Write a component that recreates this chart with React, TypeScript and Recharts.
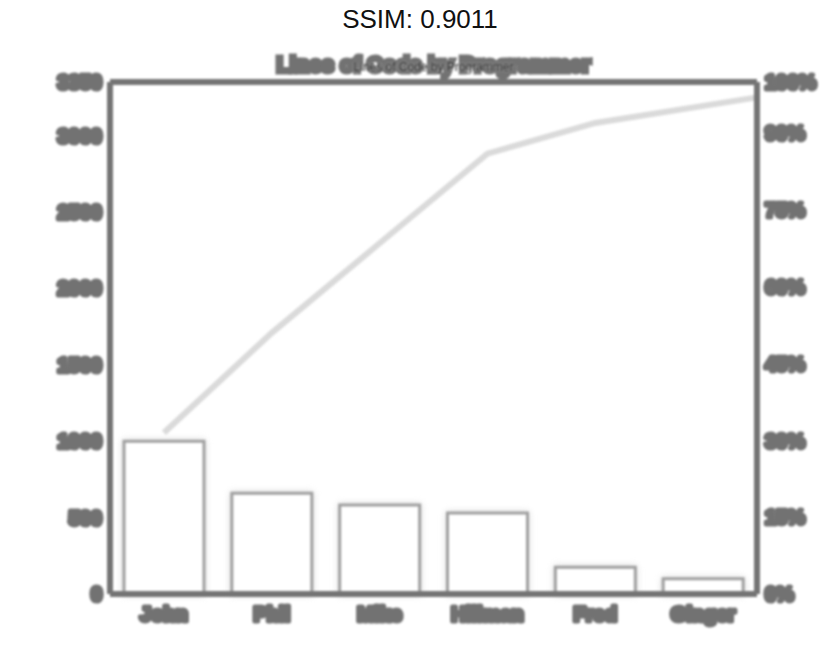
import React from 'react';
import { ComposedChart, Bar, Line, XAxis, YAxis, ReferenceLine } from 'recharts';

// programmers and their lines of code
const programmers = ['John', 'Phil', 'Mike', 'Hillman', 'Fred', 'Ginger'];
const linesOfCode = [1000, 660, 582, 530, 175, 100];

// cumulative share (%)
const cumulativePct = [31.5, 51, 68.5, 86, 92, 97];
const cumulativePos = [0, 1, 2, 3, 4, 5.5];

const leftTicks = [0, 500, 1000, 1500, 2000, 2500, 3000, 3350];
const rightTicks = [0, 15, 30, 45, 60, 75, 90, 100];

const FONT = '"Liberation Sans", Arial, sans-serif';
const AXIS = '#747474';
const LABEL = '#727272';

const labelStyle = {
   fill: LABEL,
   stroke: LABEL,
   strokeWidth: 5,
   strokeLinejoin: 'round' as const,
   fontSize: 20,
   fontWeight: 700,
   fontFamily: FONT,
};

const App = () => {
   const barData = programmers.map((name, i) => ({ name, loc: linesOfCode[i] }));
   const lineData = cumulativePos.map((pos, i) => ({ pos, pct: cumulativePct[i] }));

   return (
      <div style={{ position: 'absolute', left: 0, top: 0, width: 840, height: 664, background: '#fff' }}>
         <div
            style={{
               position: 'absolute', left: 0, top: 4, width: 840, textAlign: 'center',
               fontFamily: FONT, fontSize: 26, color: '#111',
            }}
         >
            SSIM: 0.9011
         </div>
         <div style={{ position: 'absolute', left: 0, top: 0, width: 840, height: 664, filter: 'blur(0.9px)' }}>
            <div
               style={{
                  position: 'absolute', left: 110, width: 647, top: 51, textAlign: 'center',
                  fontFamily: FONT, fontSize: 22, fontWeight: 700, color: LABEL,
                  WebkitTextStroke: `5px ${LABEL}`, lineHeight: '28px',
               }}
            >
               Lines of Code by Programmer
            </div>
            <div
               style={{
                  position: 'absolute', left: 110, width: 647, top: 60, textAlign: 'center',
                  fontFamily: FONT, fontSize: 12, color: '#1a1a1a', lineHeight: '14px',
                  textShadow: '0 0 2px #eeeeee',
               }}
            >
               Lines of Code by Programmer
            </div>
            <ComposedChart
               width={840}
               height={664}
               data={barData}
               margin={{ top: 82, right: 0, bottom: 0, left: 0 }}
               style={{ position: 'absolute', left: 0, top: 0 }}
            >
               <XAxis
                  dataKey="name"
                  xAxisId="cat"
                  height={70}
                  interval={0}
                  tickLine={false}
                  tickMargin={7}
                  axisLine={{ stroke: AXIS, strokeWidth: 6 }}
                  tick={labelStyle}
               />
               <XAxis xAxisId="pos" dataKey="pos" type="number" domain={[-0.5, 5.5]} hide />
               <YAxis
                  yAxisId="left"
                  domain={[0, 3350]}
                  ticks={leftTicks}
                  interval={0}
                  width={110}
                  tickLine={false}
                  axisLine={{ stroke: AXIS, strokeWidth: 6 }}
                  tick={labelStyle}
               />
               <YAxis
                  yAxisId="right"
                  orientation="right"
                  domain={[0, 100]}
                  ticks={rightTicks}
                  interval={0}
                  width={83}
                  tickLine={false}
                  tickFormatter={(v: number) => `${v}%`}
                  axisLine={{ stroke: AXIS, strokeWidth: 6 }}
                  tick={labelStyle}
               />
               <ReferenceLine yAxisId="left" xAxisId="cat" y={3350} stroke={AXIS} strokeWidth={6} />
               <Bar
                  dataKey="loc"
                  xAxisId="cat"
                  yAxisId="left"
                  barSize={80}
                  fill="#ffffff"
                  stroke="#a0a0a0"
                  strokeWidth={3}
                  style={{ filter: 'drop-shadow(0 0 3px #d8d8d8)' }}
                  isAnimationActive={false}
               />
               <Line
                  data={lineData}
                  dataKey="pct"
                  xAxisId="pos"
                  yAxisId="right"
                  type="linear"
                  stroke="#dadada"
                  strokeWidth={6}
                  dot={false}
                  activeDot={false}
                  isAnimationActive={false}
               />
            </ComposedChart>
         </div>
      </div>
   );
};

export default App;
